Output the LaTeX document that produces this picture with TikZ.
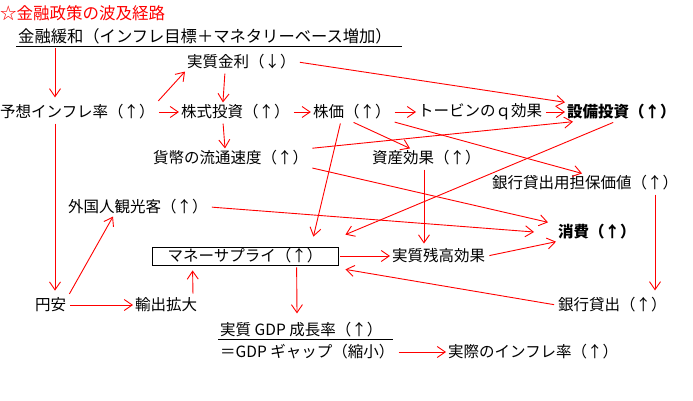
\documentclass[tikz,border=0pt]{standalone}
\usepackage{fontspec}
\setmainfont{Noto Sans CJK JP}
\usetikzlibrary{positioning,arrows.meta}

\begin{document}
\begin{tikzpicture}[x=1pt, y=-1pt, node distance=21pt,
  main/.style = {inner sep=2pt, anchor=west, font=\fontsize{15.5}{18}\selectfont},
  arr/.style = {draw=red, line width=0.9pt, -{Straight Barb[length=8pt,width=11pt]}, shorten <=2pt}]
\useasboundingbox (0,0) rectangle (693,401);
\node[main, red, font=\fontsize{16.5}{18}\selectfont] (0) at (-2,13) {☆金融政策の波及経路};
\node[main, font=\fontsize{16.3}{18}\selectfont] (1) at (16,36) {金融緩和（インフレ目標＋マネタリーベース増加）};
\node[main] (2) at (185,62) {実質金利（↓）};
\node[main] (3) at (-2,112) {予想インフレ率（↑）};
\node[main] (4) [right=22pt of 3] {株式投資（↑）};
\node[main] (5) [right=19pt of 4] {株価（↑）};
\node[main] (6) at (416,112) {トービンのｑ効果};
\node[main] (7) at (565,112) {\textbf{設備投資（↑）}};
\node[main] (8) at (151,158) {貨幣の流通速度（↑）};
\node[main] (9) at (370,158) {資産効果（↑）};
\node[main] (10) at (490,183) {銀行貸出用担保価値（↑）};
\node[main] (11) at (66,207) {外国人観光客（↑）};
\node[main] (12) at (556,232) {\textbf{消費（↑）}};
\node[main, draw, line width=0.8pt, anchor=center, minimum width=186pt, minimum height=18pt, inner sep=0pt] (13) at (245,256) {マネーサプライ（↑）};
\node[main] (14) at (390,256) {実質残高効果};
\node[main] (15) at (33,305) {円安};
\node[main] (16) at (133,305) {輸出拡大};
\node[main] (17) at (556,305) {銀行貸出（↑）};
\node[main] (18) at (218,330) {実質 GDP 成長率（↑）};
\node[main] (19) at (218,352) {＝GDP ギャップ（縮小）};
\node[main] (20) at (446,352) {実際のインフレ率（↑）};
% underlines
\draw[line width=0.8pt] (1.south west) -- ([xshift=8pt]1.south east);
\draw[line width=0.8pt] (18.south west) -- ([xshift=8pt]18.south east);
% arrows
\draw[arr] ([xshift=39pt]1.south west) -- ([xshift=57pt,yshift=5pt]3.north west);
\draw[arr] (3.north east) -- (2.south west);
\draw[arr] (3) -- (4);
\draw[arr] ([xshift=40pt]2.south west) -- ([xshift=44pt]4.north west);
\draw[arr] (2.east) -- (7.north west);
\draw[arr] (4) -- (5);
\draw[arr] ([xshift=44pt]4.south west) -- ([xshift=74pt]8.north west);
\draw[arr] (5) -- (6);
\draw[arr] (6) -- (7);
\draw[arr] ([xshift=57pt]3.south west) -- ([xshift=22pt,yshift=5pt]15.north west);
\draw[arr] (5.south) -- ([xshift=40pt]9.north west);
\draw[arr] (5.south east) -- ([xshift=92pt]10.north west);
\draw[arr] ([xshift=30pt]5.south west) -- ([xshift=-25pt,yshift=10pt]13.north east);
\draw[arr] (8.north east) -- ([xshift=8pt]7.south west);
\draw[arr] (8.south east) -- ([xshift=-8pt]12.north west);
\draw[arr] ([xshift=165pt]10.south west) -- ([xshift=99pt,yshift=5pt]17.north west);
\draw[arr] ([xshift=50pt]7.south west) -- ([xshift=7pt,yshift=12pt]13.north east);
\draw[arr] ([xshift=54pt]9.south west) -- ([xshift=34pt,yshift=3pt]14.north west);
\draw[arr] (11.east) -- ([xshift=-22pt]12.west);
\draw[arr] (13) -- (14);
\draw[arr] (14.east) -- (12.south west);
\draw[arr] (17.west) -- ([xshift=7pt,yshift=-4pt]13.south east);
\draw[arr] (15.north east) -- ([xshift=47pt]11.south west);
\draw[arr] (15) -- (16);
\draw[arr] ([xshift=60pt]16.north west) -- ([xshift=41pt,yshift=-5pt]13.south west);
\draw[arr] ([xshift=145pt]13.south west) -- ([xshift=79pt,yshift=7pt]18.north west);
\draw[arr] (19) -- (20);
\end{tikzpicture}
\end{document}
